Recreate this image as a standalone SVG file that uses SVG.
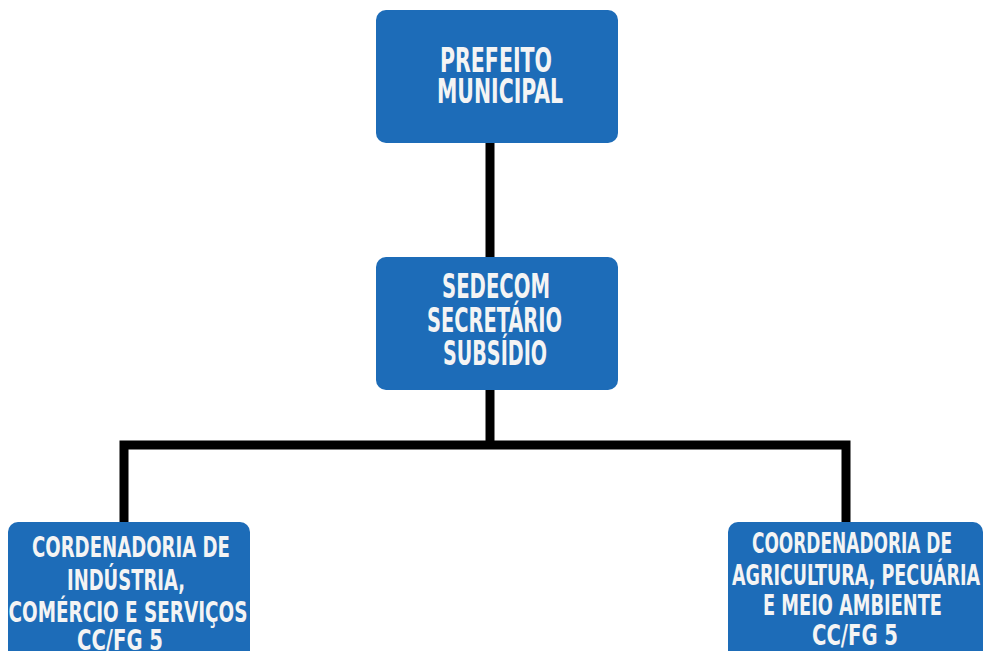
<svg xmlns="http://www.w3.org/2000/svg" width="984" height="651" viewBox="0 0 984 651">
<style>
.box{fill:#1d6cb8}
.t{font-family:"DejaVu Sans Condensed","DejaVu Sans",sans-serif;font-weight:bold;fill:#f4f4f4;text-anchor:middle}
.big{font-size:33px}
.sm{font-size:28px}
.c{fill:none;stroke:#000;stroke-width:9;stroke-linejoin:miter;stroke-linecap:butt}
</style>
<rect width="984" height="651" fill="#fff"/>
<g id="connectors">
<line class="c" x1="490" y1="140" x2="490" y2="260"/>
<line class="c" x1="490" y1="388" x2="490" y2="445"/>
<polyline class="c" points="124,525 124,445 846,445 846,525"/>
</g>
<g id="prefeito">
<rect class="box" x="376" y="10" width="242" height="133" rx="10"/>
<text class="t big" x="496" y="72" textLength="112" lengthAdjust="spacingAndGlyphs">PREFEITO</text>
<text class="t big" x="500" y="103" textLength="126" lengthAdjust="spacingAndGlyphs">MUNICIPAL</text>
</g>
<g id="sedecom">
<rect class="box" x="376" y="257" width="242" height="133" rx="10"/>
<text class="t big" x="496" y="298" textLength="108" lengthAdjust="spacingAndGlyphs">SEDECOM</text>
<text class="t big" x="494.5" y="332" textLength="135" lengthAdjust="spacingAndGlyphs">SECRETÁRIO</text>
<text class="t big" x="495" y="365" textLength="104" lengthAdjust="spacingAndGlyphs">SUBSÍDIO</text>
</g>
<g id="coord-industria">
<rect class="box" x="8" y="522" width="242" height="160" rx="10"/>
<text class="t sm" x="131" y="557" textLength="198" lengthAdjust="spacingAndGlyphs">CORDENADORIA DE</text>
<text class="t sm" x="126" y="590" textLength="118" lengthAdjust="spacingAndGlyphs">INDÚSTRIA,</text>
<text class="t sm" x="128" y="622" textLength="239" lengthAdjust="spacingAndGlyphs">COMÉRCIO E SERVIÇOS</text>
<text class="t sm" x="120" y="650" textLength="86" lengthAdjust="spacingAndGlyphs">CC/FG 5</text>
</g>
<g id="coord-agricultura">
<rect class="box" x="728" y="522" width="255" height="160" rx="10"/>
<text class="t sm" x="852" y="553" textLength="200" lengthAdjust="spacingAndGlyphs">COORDENADORIA DE</text>
<text class="t sm" x="856" y="585" textLength="248" lengthAdjust="spacingAndGlyphs">AGRICULTURA, PECUÁRIA</text>
<text class="t sm" x="852.5" y="615" textLength="179" lengthAdjust="spacingAndGlyphs">E MEIO AMBIENTE</text>
<text class="t sm" x="855" y="645" textLength="86" lengthAdjust="spacingAndGlyphs">CC/FG 5</text>
</g>
</svg>
